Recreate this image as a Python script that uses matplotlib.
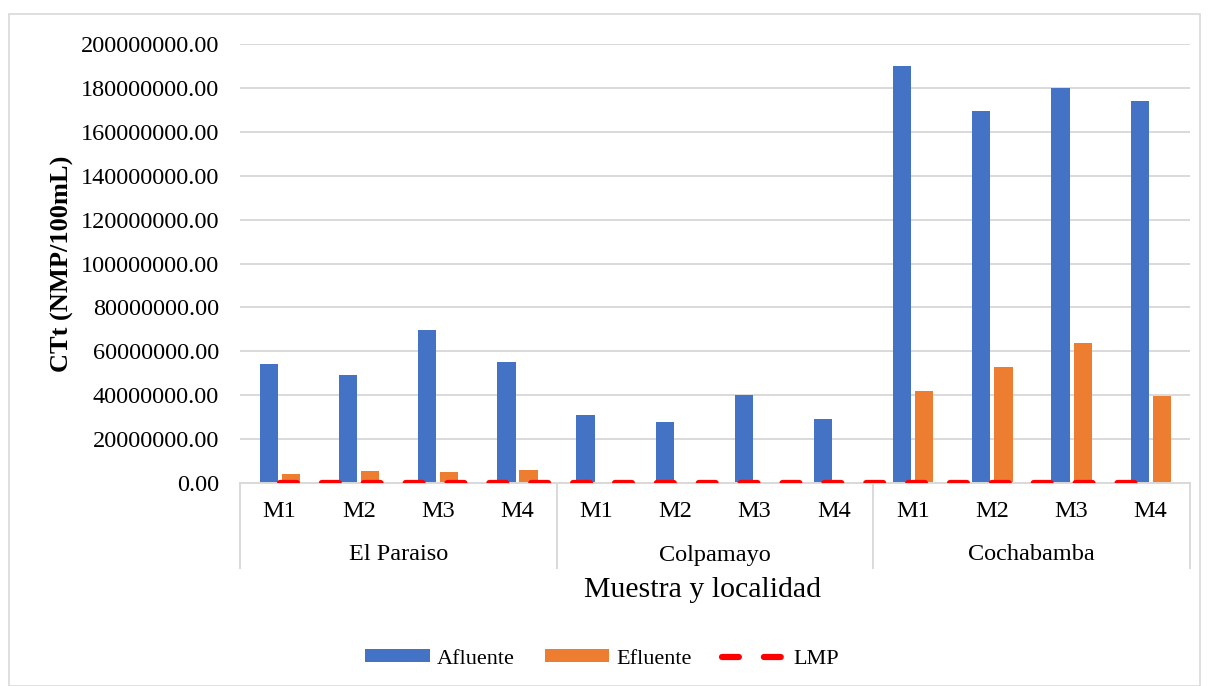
import matplotlib.pyplot as plt
import matplotlib.patches as mpatches
import matplotlib.transforms as mtransforms
from matplotlib.lines import Line2D
from matplotlib.ticker import FormatStrFormatter
import numpy as np

plt.rcParams['font.family'] = ['Liberation Serif', 'DejaVu Serif']

# datos de coliformes termotolerantes por muestra
localidades = ['El Paraiso', 'Colpamayo', 'Cochabamba']
muestras = ['M1', 'M2', 'M3', 'M4']
afluente = [54000000, 49200000, 69800000, 55000000,
            31000000, 27800000, 40000000, 29000000,
            190000000, 169600000, 180000000, 173900000]
efluente = [4200000, 5500000, 5200000, 5900000,
            150000, 150000, 150000, 150000,
            41900000, 52700000, 63900000, 39800000]
lmp = [1000] * 12

AZUL = '#4472c4'
NARANJA = '#ed7d31'
GRIS = '#d9d9d9'

fig = plt.figure(figsize=(12.08, 6.86), dpi=100)
W, H = 1208, 686
ax = fig.add_axes([240 / W, 1 - 483 / H, 950 / W, 439 / H])

# borde exterior del grafico
fig.patches.append(mpatches.Rectangle((9 / W, 0.0), 1191 / W, 1 - 14 / H,
                                      transform=fig.transFigure, fill=False,
                                      edgecolor=GRIS, lw=1.2))

x = np.arange(len(afluente))
b1 = ax.bar(x - 0.135, afluente, width=0.23, color=AZUL, label='Afluente', zorder=2)
b2 = ax.bar(x + 0.145, efluente, width=0.23, color=NARANJA, label='Efluente', zorder=2)
l1, = ax.plot(x, lmp, color='red', lw=4.5, dashes=(2.7, 4.0),
              dash_capstyle='round', label='LMP', zorder=3)

ax.set_xlim(-0.5, 11.5)
ax.set_ylim(0, 200000000)
ax.set_yticks(np.arange(0, 200000001, 20000000))
ax.yaxis.set_major_formatter(FormatStrFormatter('%.2f'))
ax.tick_params(axis='y', length=0, pad=15, labelsize=17.5)
ax.grid(axis='y', color=GRIS, lw=1.4, zorder=0)
ax.set_axisbelow(True)
for s in ['top', 'right', 'left']:
    ax.spines[s].set_visible(False)
ax.spines['bottom'].set_color(GRIS)
ax.spines['bottom'].set_linewidth(1.4)

# etiquetas de categoria en dos niveles
ax.set_xticks(x)
ax.set_xticklabels(muestras * 3)
ax.tick_params(axis='x', length=0, pad=13, labelsize=17.5)
trans = mtransforms.blended_transform_factory(ax.transData, fig.transFigure)
for i, loc in enumerate(localidades):
    ax.text(i * 4 + 1.5, 1 - 555 / H, loc, transform=trans, ha='center',
            va='center', fontsize=17.5)
for b in [-0.5, 3.5, 7.5, 11.5]:
    ax.add_line(Line2D([b, b], [1 - 483 / H, 1 - 568 / H], transform=trans,
                       color=GRIS, lw=1.4, clip_on=False))

fig.text(702 / W, 1 - 590 / H, 'Muestra y localidad', ha='center', va='center',
         fontsize=21.5)
fig.text(62 / W, 1 - 264 / H, 'CTt (NMP/100mL)', ha='center', va='center',
         rotation=90, fontsize=19, fontweight='bold')

fig.legend([b1, b2, l1], ['Afluente', 'Efluente', 'LMP'], loc='center',
           bbox_to_anchor=(602 / W, 1 - 659 / H), ncol=3,
           frameon=False, fontsize=16, handlelength=2.9, handleheight=0.5,
           handletextpad=0.32, columnspacing=1.35)

fig.savefig('out.png', dpi=100)
